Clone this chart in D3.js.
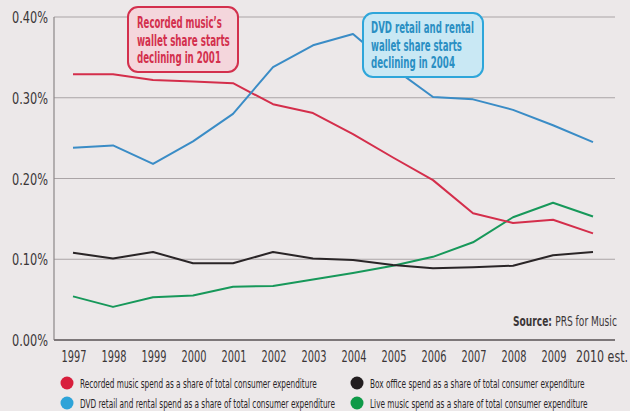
<!DOCTYPE html>
<html>
<head>
<meta charset="utf-8">
<script src="https://cdn.jsdelivr.net/npm/d3@7"></script>
<style>
  body { margin: 0; background: #ece8e9; }
  svg { display: block; }
  text { font-family: "Liberation Sans Narrow", "DejaVu Sans Condensed", "Roboto Condensed", sans-serif; }
</style>
</head>
<body>
<div id="chart"></div>
<script>
// data (share of total consumer expenditure, %)
var years = [1997, 1998, 1999, 2000, 2001, 2002, 2003, 2004, 2005, 2006, 2007, 2008, 2009, 2010];
var yearLabels = ["1997", "1998", "1999", "2000", "2001", "2002", "2003", "2004", "2005", "2006", "2007", "2008", "2009", "2010 est."];
var recorded = [0.329, 0.329, 0.322, 0.320, 0.318, 0.292, 0.281, 0.255, 0.226, 0.198, 0.157, 0.145, 0.149, 0.132];
var dvd = [0.238, 0.241, 0.218, 0.246, 0.280, 0.338, 0.365, 0.379, 0.337, 0.301, 0.298, 0.285, 0.266, 0.245];
var boxOffice = [0.108, 0.101, 0.109, 0.095, 0.095, 0.109, 0.101, 0.099, 0.093, 0.089, 0.090, 0.092, 0.105, 0.109];
var live = [0.054, 0.041, 0.053, 0.055, 0.066, 0.067, 0.075, 0.083, 0.092, 0.103, 0.121, 0.152, 0.170, 0.153];
var yTicks = [0, 0.1, 0.2, 0.3, 0.4];
var legendLabels = [
  "Recorded music spend as a share of total consumer expenditure",
  "DVD retail and rental spend as a share of total consumer expenditure",
  "Box office spend as a share of total consumer expenditure",
  "Live music spend as a share of total consumer expenditure"
];

const W = 630, H = 411;
const plotLeft = 54, plotRight = 615, plotTop = 17, plotBottom = 340;

const svg = d3.select("#chart").append("svg")
  .attr("width", W).attr("height", H);

// no condensed font installed, so squeeze each text horizontally to width w
// (text is placed at x,y with its anchor, then scaled around that point)
function squeeze(node, w){
  var t = d3.select(node);
  var px = +t.attr("x"), py = +t.attr("y");
  var k = w / node.getComputedTextLength();
  t.attr("x", 0).attr("y", 0)
    .attr("transform", "translate(" + px + "," + py + ") scale(" + k + ",1)");
}

const x = d3.scalePoint()
  .domain(years)
  .range([73, 593]);

const y = d3.scaleLinear()
  .domain([0, 0.4])
  .range([plotBottom, plotTop]);

// gridlines
svg.append("g")
  .selectAll("line")
  .data(yTicks.filter(function(d){ return d > 0; }))
  .enter()
  .append("line")
  .attr("x1", plotLeft).attr("x2", plotRight)
  .attr("y1", function(d){ return y(d); })
  .attr("y2", function(d){ return y(d); })
  .attr("stroke", "#aaa4a6")
  .attr("stroke-width", 1);

// y axis line + baseline
svg.append("line")
  .attr("x1", plotLeft).attr("x2", plotLeft)
  .attr("y1", plotTop).attr("y2", plotBottom)
  .attr("stroke", "#8c8688").attr("stroke-width", 1.2);
svg.append("line")
  .attr("x1", plotLeft).attr("x2", plotRight)
  .attr("y1", plotBottom).attr("y2", plotBottom)
  .attr("stroke", "#7d7779").attr("stroke-width", 2);

// y tick labels
svg.append("g")
  .selectAll("text")
  .data(yTicks)
  .enter()
  .append("text")
  .attr("x", 48)
  .attr("y", function(d){ return y(d) + 6; })
  .attr("text-anchor", "end")
  .attr("font-size", 16)
  .attr("fill", "#3b3637")
  .text(function(d){ return d3.format(".2f")(d) + "%"; })
  .each(function(){ squeeze(this, 36); });

// x tick labels
svg.append("g")
  .selectAll("text")
  .data(years)
  .enter()
  .append("text")
  .attr("x", function(d, i){ return i == years.length - 1 ? x(d) - 17 : x(d) + 1; })
  .attr("y", 362)
  .attr("text-anchor", function(d, i){ return i == years.length - 1 ? "start" : "middle"; })
  .attr("font-size", 16)
  .attr("fill", "#3b3637")
  .text(function(d, i){ return yearLabels[i]; })
  .each(function(d, i){ squeeze(this, i == years.length - 1 ? 52 : 25); });

// lines
var series = [
  { values: live, color: "#17985a" },
  { values: boxOffice, color: "#2a2527" },
  { values: recorded, color: "#d42e4b" },
  { values: dvd, color: "#3a8cc6" }
];

const line = d3.line()
  .x(function(d, i){ return x(years[i]); })
  .y(function(d){ return y(d); });

series.forEach(function(s){
  svg.append("path")
    .datum(s.values)
    .attr("d", line)
    .attr("fill", "none")
    .attr("stroke", s.color)
    .attr("stroke-width", 2)
    .attr("stroke-linejoin", "round");
});

// callouts
function callout(x0, y0, w, h, fill, stroke, txtColor, lines, widths, tx, ty){
  svg.append("rect")
    .attr("x", x0).attr("y", y0)
    .attr("width", w).attr("height", h)
    .attr("rx", 10).attr("ry", 10)
    .attr("fill", fill)
    .attr("stroke", stroke)
    .attr("stroke-width", 2);
  lines.forEach(function(t, i){
    var el = svg.append("text")
      .attr("x", tx)
      .attr("y", ty + i * 17.5)
      .attr("font-size", 15)
      .attr("font-weight", "bold")
      .attr("fill", txtColor)
      .text(t);
    squeeze(el.node(), widths[i]);
  });
}

callout(128, 7, 110, 65, "#f4d6dc", "#d3304d", "#d3304d",
  ["Recorded music\u2019s", "wallet share starts", "declining in 2001"], [85, 93, 84], 137, 28);
callout(363, 13, 120, 64, "#c9e8f4", "#2ea6da", "#2a8fc3",
  ["DVD retail and rental", "wallet share starts", "declining in 2004"], [103, 91, 84], 371, 33);

// source
var src = svg.append("text")
  .attr("x", 513).attr("y", 326)
  .attr("font-size", 14)
  .attr("fill", "#3b3637");
src.append("tspan").attr("font-weight", "bold").text("Source: ");
src.append("tspan").text("PRS for Music");
squeeze(src.node(), 104);

// legend
var legendColors = ["#d81e3c", "#2ea3d8", "#221d1f", "#0f9a48"];
var legendPos = [[67, 383], [67, 403], [357, 383], [357, 403]];
var legendWidths = [237, 255, 215, 218];

var lg = svg.append("g")
  .selectAll("g")
  .data(legendLabels)
  .enter()
  .append("g")
  .attr("transform", function(d, i){ return "translate(" + legendPos[i][0] + "," + legendPos[i][1] + ")"; });

lg.append("circle")
  .attr("r", 6.5)
  .attr("fill", function(d, i){ return legendColors[i]; });

lg.append("text")
  .attr("x", 13)
  .attr("y", 4.5)
  .attr("font-size", 12)
  .attr("fill", "#2a2527")
  .text(function(d){ return d; })
  .each(function(d, i){ squeeze(this, legendWidths[i]); });
</script>
</body>
</html>
